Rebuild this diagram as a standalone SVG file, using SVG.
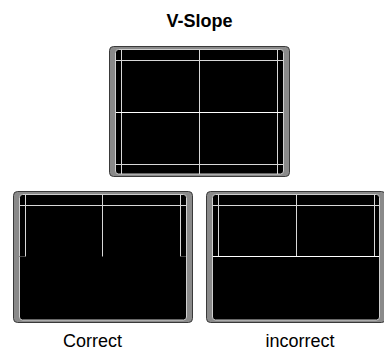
<svg xmlns="http://www.w3.org/2000/svg" width="384" height="351" viewBox="0 0 384 351">
<style>
.frame{fill:#8a8a8a;stroke:#3a3a3a;stroke-width:1}
.screen{fill:#000;stroke:#cfcfcf;stroke-width:1}
.grid{stroke:#d8d8d8;stroke-width:1;fill:none}
.mid{stroke:#ffffff;stroke-width:1;fill:none}
.tick{stroke:#444;stroke-width:1}
.title{font-family:"Liberation Sans",Arial,sans-serif;font-size:18px;font-weight:bold;fill:#000;text-anchor:middle}
.label{font-family:"Liberation Sans",Arial,sans-serif;font-size:18px;fill:#000;text-anchor:middle}
</style>
<rect width="384" height="351" fill="#fff"/>
<text class="title" x="199.5" y="27">V-Slope</text>

<g id="top-screen">
<rect class="frame" x="109.5" y="46.5" width="180" height="130" rx="4"/>
<rect class="screen" x="115.5" y="49.5" width="168" height="124.5" rx="3"/>
<path class="grid" d="M121.5 50V174M199.5 50V174M277.5 50V174M116 60.5H283M116 164.5H283"/>
<path class="mid" d="M116 112.5H283"/>
</g>

<g id="correct-screen">
<rect class="frame" x="13.5" y="191.5" width="179" height="131" rx="4"/>
<rect class="screen" x="19.5" y="194.5" width="167" height="125.5" rx="3"/>
<path class="grid" d="M20 205.5H186M25.5 195V256.5M102.5 195V256.5M180.5 195V256.5"/>
<path class="tick" d="M19.5 256.5H25M180.5 256.5H186"/>
<text class="label" x="92.5" y="347">Correct</text>
</g>

<g id="incorrect-screen">
<rect class="frame" x="206.5" y="191.5" width="179" height="131" rx="4"/>
<rect class="screen" x="212.5" y="194.5" width="167" height="125.5" rx="3"/>
<path class="grid" d="M213 205.5H379M218.5 195V256.5M296.5 195V256.5M374.5 195V256.5"/>
<path class="mid" d="M213 256.5H379"/>
<text class="label" x="300" y="347">incorrect</text>
</g>
</svg>
